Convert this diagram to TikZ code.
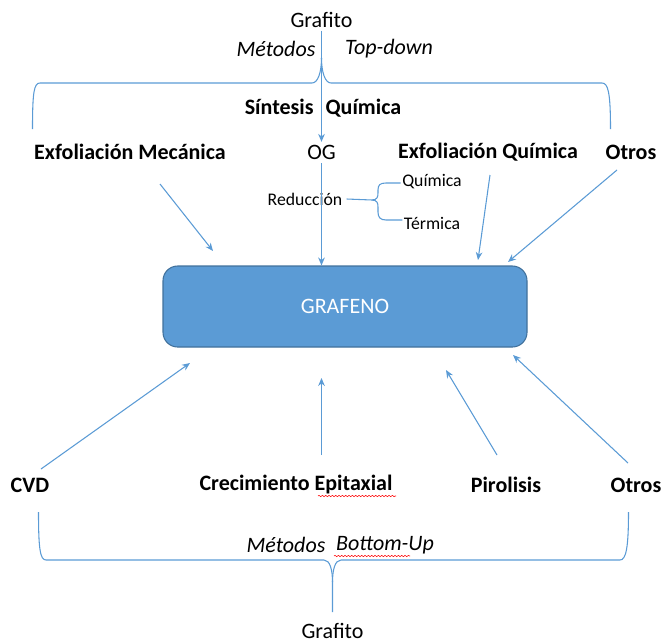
\documentclass[tikz,border=0pt]{standalone}
\usepackage{fontspec}
\setmainfont{Carlito}
\usetikzlibrary{arrows.meta,decorations.pathmorphing}
\definecolor{lb}{HTML}{5B9BD5}
\definecolor{bd}{HTML}{41719C}
\begin{document}
\begin{tikzpicture}[x=0.75pt,y=-0.75pt,
  lbl/.style={font=\fontsize{16.5}{20}\selectfont\bfseries, inner sep=0pt},
  txt/.style={font=\fontsize{16.5}{20}\selectfont, inner sep=0pt},
  itx/.style={font=\fontsize{16.5}{20}\selectfont\itshape, inner sep=0pt},
  sml/.style={font=\fontsize{13.3}{16}\selectfont, inner sep=0pt},
  mainbox/.style={draw=bd, fill=lb, line width=0.8pt, rounded corners=11pt,
    minimum width=273pt, minimum height=60.75pt, text=white,
    font=\fontsize{16.5}{20}\selectfont},
  conn/.style={draw=lb, line width=0.8pt, -{Stealth[length=6pt,width=5pt]}},
  bracestyle/.style={draw=lb, line width=0.8pt},
  spell/.style={draw=red, line width=0.4pt, decorate,
    decoration={snake,amplitude=0.5pt,segment length=2.5pt}}]
\useasboundingbox (0,0) rectangle (664,643);

% texts
\node[txt] (g1) at (321.5,20) {Grafito};
\node[itx] (m1) at (276,49) {Métodos};
\node[itx] (td) at (389,49) {Top-down};
\node[lbl] (sq) at (323,108) {Síntesis\hspace{9pt}Química};
\node[lbl] (em) at (130,152) {Exfoliación Mecánica};
\node[txt] (og) at (321.5,152) {OG};
\node[lbl] (eq) at (488,152) {Exfoliación Química};
\node[lbl] (o1) at (631,152) {Otros};
\node[sml] (red) at (305,199) {Reducción};
\node[sml] (qu) at (432,182) {Química};
\node[sml] (te) at (432,223) {Térmica};

\node[mainbox] (gr) at (345,306.5) {GRAFENO};

\node[lbl] (cvd) at (30,485) {CVD};
\node[lbl] (ce) at (296,485) {Crecimiento Epitaxial};
\node[lbl] (pi) at (506,485) {Pirolisis};
\node[lbl] (o2) at (636,485) {Otros};
\node[itx] (m2) at (286,545) {Métodos};
\node[itx] (bu) at (385,545) {Bottom-Up};
\node[txt] (g2) at (332.5,631) {Grafito};

% spell-check underlines
\draw[spell] (318,496) -- (396,496);
\draw[spell] (334,556) -- (410,556);

% top brace
\draw[bracestyle] (32.5,129) .. controls (32.5,92) and (34,83) .. (40,83) -- (312,83)
  .. controls (318,83) and (321.5,72) .. (321.5,58);
\draw[bracestyle] (610.5,129) .. controls (610.5,92) and (608,83) .. (602,83) -- (331,83)
  .. controls (325,83) and (321.5,72) .. (321.5,58);

% bottom brace
\draw[bracestyle] (38.5,512) .. controls (38.5,548) and (40,560) .. (46,560) -- (324,560)
  .. controls (330,560) and (332.5,570) .. (332.5,582) -- (332.5,612);
\draw[bracestyle] (628.5,512) .. controls (628.5,548) and (626,560) .. (620,560) -- (341,560)
  .. controls (335,560) and (332.5,570) .. (332.5,582);

% small brace for Reducción
\draw[bracestyle] ([xshift=3pt]red.east) -- (372,200)
  .. controls (377,200) and (378,197) .. (378,193) -- (378,190)
  .. controls (378,185) and (380,183) .. (386,183) -- ([xshift=-1pt]qu.west |- 0,183);
\draw[bracestyle] (372,200)
  .. controls (377,200) and (378,203) .. (378,207) -- (378,212)
  .. controls (378,217) and (380,220) .. (386,220) -- ([xshift=-1pt]te.west |- 0,220);

% connectors
\coordinate (a1s) at (160,184);  \coordinate (a1e) at (213,251);
\coordinate (a2s) at (490,175);  \coordinate (a2e) at (478,260);
\coordinate (a3s) at (617,170);  \coordinate (a3e) at (508,262);
\coordinate (b1s) at (41,469);   \coordinate (b1e) at (190,363);
\coordinate (b2s) at (321.5,455);  \coordinate (b2e) at (321.5,378);
\coordinate (b3s) at (497,455);  \coordinate (b3e) at (446,370);
\coordinate (b4s) at (628,463);  \coordinate (b4e) at (513,355);

\draw[conn] ([yshift=-2pt]g1.south) -- ([yshift=2pt]og.north);
\draw[conn] ([yshift=-3pt]og.south) -- (gr.north -| og);
\draw[conn] (a1s) -- (a1e);
\draw[conn] (a2s) -- (a2e);
\draw[conn] (a3s) -- (a3e);
\draw[conn] (b1s) -- (b1e);
\draw[conn] (b2s) -- (b2e);
\draw[conn] (b3s) -- (b3e);
\draw[conn] (b4s) -- (b4e);
\end{tikzpicture}
\end{document}
